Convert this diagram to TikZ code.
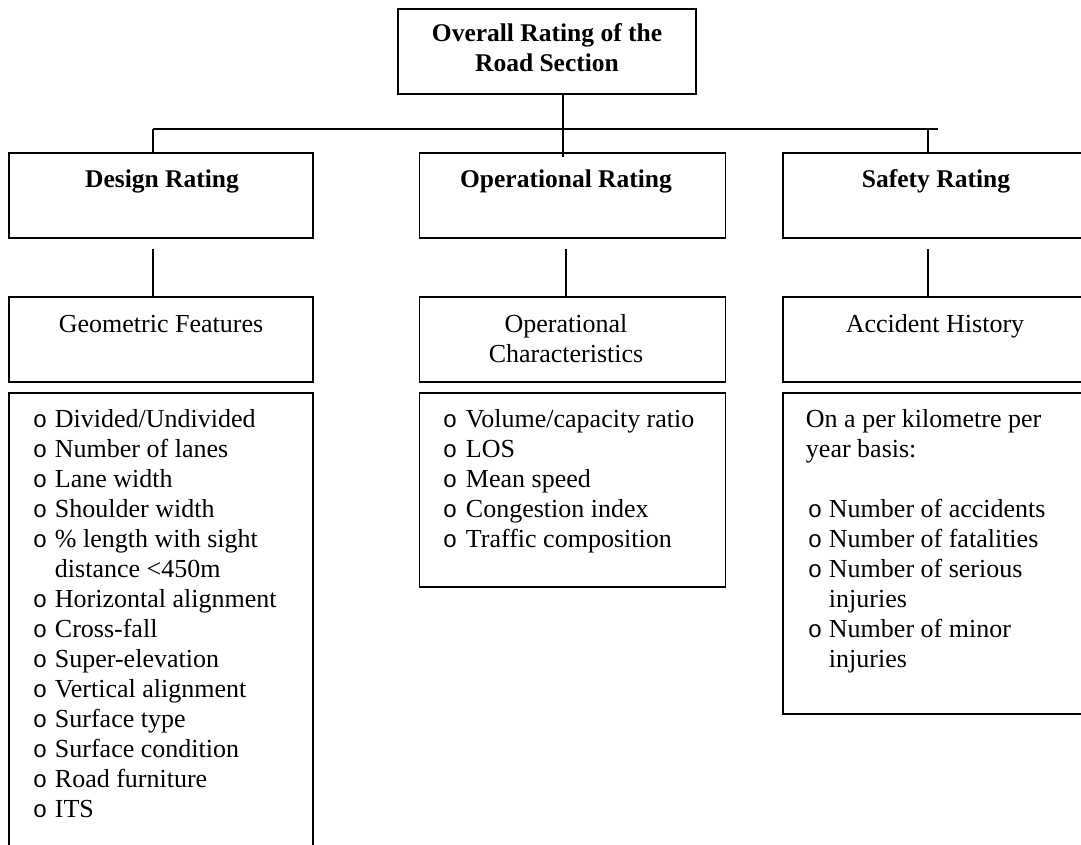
\documentclass[tikz,border=0pt]{standalone}
\usepackage{fontspec}
\setmainfont{Liberation Serif}
\newfontfamily\bulfont{Liberation Mono}
\newcommand{\bul}{{\bulfont\fontsize{24}{30}\selectfont o}}
\begin{document}
\begin{tikzpicture}[x=1pt,y=-1pt,
  line width=1.9pt,
  box/.style={draw, rectangle, line width=1.9pt, inner sep=0pt, minimum width=#1},
  hbox/.style={box=#1, minimum height=85pt},
  txt/.style={inner sep=0pt, anchor=base, font=\fontsize{26}{30}\selectfont},
  btxt/.style={txt, font=\fontsize{25.5}{30}\selectfont\bfseries},
  lst/.style={inner sep=0pt, anchor=base west, font=\fontsize{26}{30}\selectfont}]
\clip (0,0) rectangle (1081,845);
\fill[white] (0,0) rectangle (1081,845);

% level 0
\node[hbox=298pt] (top) at (547,51.5) {};
\node[btxt] (topT) at (547,42) {\begin{tabular}[t]{@{}c@{}}Overall Rating of the\\Road Section\end{tabular}};

% level 1
\node[hbox=304pt] (design) at (161,195.5) {};
\node[hbox=306pt] (oper) at (572.5,195.5) {};
\node[hbox=305pt] (safety) at (935.5,195.5) {};
\node[btxt] (designT) at (162,188) {Design Rating};
\node[btxt] (operT) at (566,188) {Operational Rating};
\node[btxt] (safetyT) at (936,188) {Safety Rating};

% level 2
\node[hbox=304pt] (geo) at (161,339.5) {};
\node[hbox=306pt] (opchar) at (572.5,339.5) {};
\node[hbox=305pt] (acc) at (935.5,339.5) {};
\node[txt] (geoT) at (161,332) {Geometric Features};
\node[txt] (opcharT) at (566,332) {\begin{tabular}[t]{@{}c@{}}Operational\\Characteristics\end{tabular}};
\node[txt] (accT) at (935,332) {Accident History};

% level 3 (lists)
\node[box=304pt, minimum height=477pt] (geolist) at (161,631.5) {};
\node[box=306pt, minimum height=194pt] (oplist) at (572.5,490) {};
\node[box=305pt, minimum height=321pt] (acclist) at (935.5,553.5) {};

\node[lst] (geoL) at (32,427) {\begin{tabular}[t]{@{}p{22pt}@{}l@{}}
\bul & Divided/Undivided\\
\bul & Number of lanes\\
\bul & Lane width\\
\bul & Shoulder width\\
\bul & \% length with sight\\
     & distance <450m\\
\bul & Horizontal alignment\\
\bul & Cross-fall\\
\bul & Super-elevation\\
\bul & Vertical alignment\\
\bul & Surface type\\
\bul & Surface condition\\
\bul & Road furniture\\
\bul & ITS
\end{tabular}};

\node[lst] (opL) at (442,427) {\begin{tabular}[t]{@{}p{23pt}@{}l@{}}
\bul & Volume/capacity ratio\\
\bul & LOS\\
\bul & Mean speed\\
\bul & Congestion index\\
\bul & Traffic composition
\end{tabular}};

\node[lst] (accL) at (805,427) {\begin{tabular}[t]{@{}p{2pt}@{}p{21pt}@{}l@{}}
\multicolumn{3}{@{}l@{}}{On a per kilometre per}\\
\multicolumn{3}{@{}l@{}}{year basis:}\\
\multicolumn{3}{@{}l@{}}{}\\
 & \bul & Number of accidents\\
 & \bul & Number of fatalities\\
 & \bul & Number of serious\\
 & & injuries\\
 & \bul & Number of minor\\
 & & injuries
\end{tabular}};

% connectors
\coordinate (busL) at (153,129);
\coordinate (busR) at (938,129);
\coordinate (busS) at (928,129);
\coordinate (busM) at (563,129);
\draw (busL) -- (busR);
\draw (top.south -| busM) -- ([yshift=-5pt]busM |- oper.north);
\draw (busL) -- (busL |- design.north);
\draw (busS) -- (busS |- safety.north);

\coordinate (d1) at (153,249);
\coordinate (d2) at (566,249);
\coordinate (d3) at (928,249);
\draw (d1) -- (d1 |- geo.north);
\draw (d2) -- (d2 |- opchar.north);
\draw (d3) -- (d3 |- acc.north);
\end{tikzpicture}
\end{document}
